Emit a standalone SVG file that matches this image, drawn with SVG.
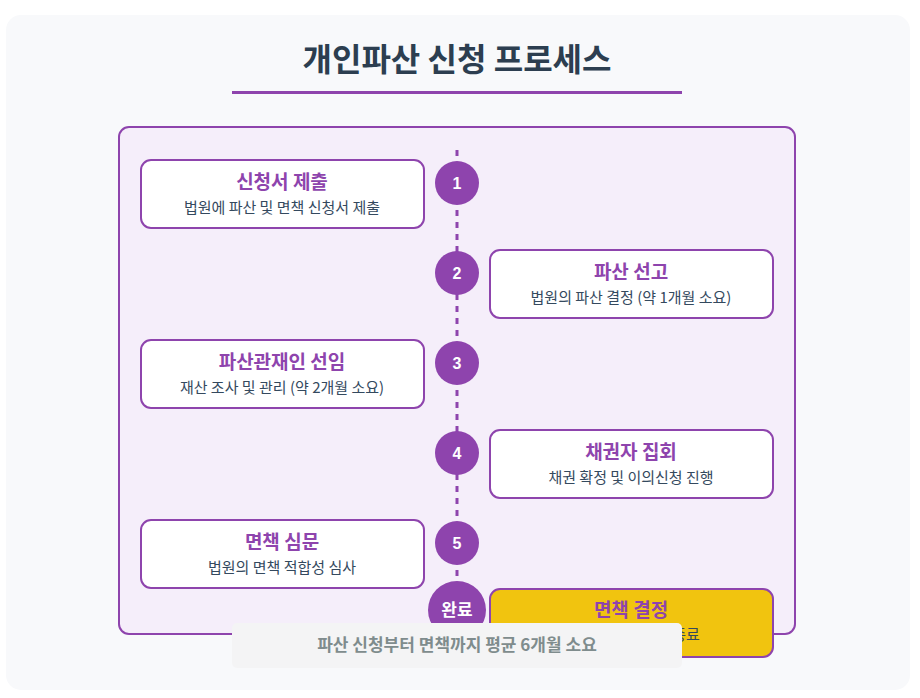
<svg xmlns="http://www.w3.org/2000/svg" width="920" height="698" viewBox="0 0 920 698">
<style>
text{font-family:"Noto Sans CJK KR","Noto Sans",sans-serif;text-anchor:middle}
.card{fill:#fff;stroke:#8e44ad;stroke-width:2}
.t{font-size:19px;font-weight:bold;fill:#8e44ad}
.s{font-size:15px;fill:#34495e}
.c{fill:#8e44ad}
.n{font-size:16px;font-weight:bold;fill:#fff;font-family:"Liberation Sans",sans-serif}
</style>
<rect x="6" y="15" width="904" height="675" rx="15" fill="#f8f9fb"/>
<text x="457" y="71" font-size="32" font-weight="bold" fill="#2c3e50">개인파산 신청 프로세스</text>
<rect x="232" y="91" width="450" height="3" fill="#8e44ad"/>
<rect x="119" y="127" width="676" height="507" rx="10" fill="#f5eefa" stroke="#8e44ad" stroke-width="2"/>
<g id="connectors"><line x1="457" y1="150" x2="457" y2="590" stroke="#8e44ad" stroke-width="3" stroke-dasharray="6,6"/></g>
<g id="n1"><rect class="card" x="141" y="160" width="283" height="68" rx="10"/><text class="t" x="282" y="189">신청서 제출</text><text class="s" x="282" y="213">법원에 파산 및 면책 신청서 제출</text><circle class="c" cx="457" cy="183" r="22"/><text class="n" x="457" y="189">1</text></g>
<g id="n2"><rect class="card" x="490" y="250" width="283" height="68" rx="10"/><text class="t" x="631" y="279">파산 선고</text><text class="s" x="631" y="303">법원의 파산 결정 (약 1개월 소요)</text><circle class="c" cx="457" cy="273" r="22"/><text class="n" x="457" y="279">2</text></g>
<g id="n3"><rect class="card" x="141" y="340" width="283" height="68" rx="10"/><text class="t" x="282" y="369">파산관재인 선임</text><text class="s" x="282" y="393">재산 조사 및 관리 (약 2개월 소요)</text><circle class="c" cx="457" cy="363" r="22"/><text class="n" x="457" y="369">3</text></g>
<g id="n4"><rect class="card" x="490" y="430" width="283" height="68" rx="10"/><text class="t" x="631" y="459">채권자 집회</text><text class="s" x="631" y="483">채권 확정 및 이의신청 진행</text><circle class="c" cx="457" cy="453" r="22"/><text class="n" x="457" y="459">4</text></g>
<g id="n5"><rect class="card" x="141" y="520" width="283" height="68" rx="10"/><text class="t" x="282" y="549">면책 심문</text><text class="s" x="282" y="573">법원의 면책 적합성 심사</text><circle class="c" cx="457" cy="543" r="22"/><text class="n" x="457" y="549">5</text></g>
<g id="n6"><rect x="490" y="589" width="283" height="68" rx="10" fill="#f1c40f" stroke="#8e44ad" stroke-width="2"/><text class="t" x="631" y="617">면책 결정</text><text class="s" x="631" y="640">면책 허가 및 절차 종료</text><circle class="c" cx="457" cy="610" r="29"/><text x="457" y="616" font-size="17" font-weight="bold" fill="#fff">완료</text></g>
<g id="footer"><rect x="232" y="623" width="450" height="45" rx="5" fill="#f4f4f5"/><text x="457" y="651" font-size="17" font-weight="bold" fill="#7f8c8d">파산 신청부터 면책까지 평균 6개월 소요</text></g>
</svg>
